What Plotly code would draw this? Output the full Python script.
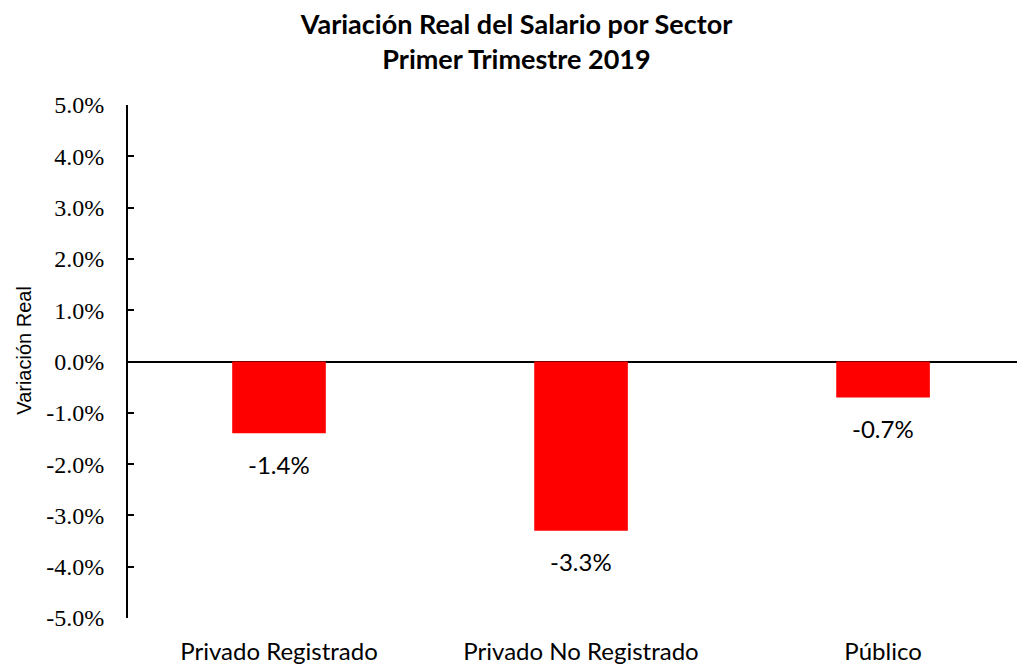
import plotly.graph_objects as go

categories = ["Privado Registrado", "Privado No Registrado", "Público"]
values = [-0.014, -0.033, -0.007]
labels = ["-1.4%", "-3.3%", "-0.7%"]
y_ticks = [-0.05, -0.04, -0.03, -0.02, -0.01, 0.0, 0.01, 0.02, 0.03, 0.04, 0.05]
y_tick_labels = ["-5.0%", "-4.0%", "-3.0%", "-2.0%", "-1.0%", "0.0%",
                 "1.0%", "2.0%", "3.0%", "4.0%", "5.0%"]

sans = "Lato"
serif = "Liberation Serif"

fig = go.Figure()
fig.add_trace(go.Bar(x=categories, y=values, marker_color="#FF0000", width=0.31,
                     marker_line_width=0, hoverinfo="skip"))

for c, v, t in zip(categories, values, labels):
    fig.add_annotation(x=c, y=v, text=t, showarrow=False, yshift=-31,
                       font=dict(family=sans, size=24, color="black"))

# y-axis title as a rotated annotation (placed slightly above the plot centre, as in the reference)
fig.add_annotation(text="Variación Real", textangle=-90, showarrow=False,
                   xref="paper", yref="paper", x=0, y=0.521, xanchor="center", yanchor="middle",
                   xshift=-104, font=dict(family="Liberation Sans", size=20, color="black"))

fig.update_layout(
    width=1017, height=657,
    margin=dict(l=120, r=0, t=97, b=45),
    paper_bgcolor="white", plot_bgcolor="white",
    showlegend=False,
    title=dict(text="<b>Variación Real del Salario por Sector<br>Primer Trimestre 2019</b>",
               x=0.5, xref="container", xanchor="center",
               y=1 - 26 / 657, yref="container", yanchor="middle",
               font=dict(family=sans, size=27, color="black")),
    xaxis=dict(range=[-0.5, 2.47], showline=False, showgrid=False, zeroline=False,
               ticks="outside", ticklen=12, tickcolor="rgba(0,0,0,0)",
               tickfont=dict(family=sans, size=24, color="black")),
    yaxis=dict(range=[-0.05, 0.05], tickvals=y_ticks, ticktext=y_tick_labels,
               showline=True, linecolor="black", linewidth=1.8,
               ticks="inside", ticklen=6, tickwidth=1.5, tickcolor="black",
               ticklabelstandoff=17,
               showgrid=False, zeroline=True, zerolinecolor="black", zerolinewidth=1.8,
               tickfont=dict(family=serif, size=24, color="black")),
)

fig.write_html("out.html")
